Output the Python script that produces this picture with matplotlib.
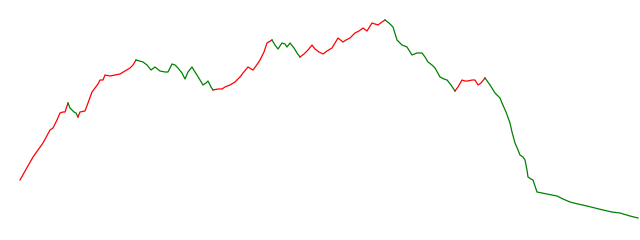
import matplotlib
matplotlib.use("Agg")
import matplotlib.pyplot as plt

days = [0, 13, 23, 30, 33, 37, 40, 43, 45, 48,
        50, 54, 56, 58,
        60, 65, 68, 72, 75, 78, 80, 83, 85, 90, 95, 100, 105, 110, 113, 116,
        123, 127, 131, 135, 140, 145, 148, 152, 155, 158, 162, 165, 168, 172, 175, 177, 180, 183, 186, 188, 191, 193,
        198, 202, 205, 210, 215, 220, 223, 228, 233, 236, 240, 244, 247, 252,
        255, 258, 262, 265, 267, 270, 274, 277, 280,
        284, 288, 292, 295, 299, 303, 307, 312, 315, 318, 323, 326, 330, 335, 339, 343, 347, 352, 355, 358, 362, 365,
        369, 373, 377, 382, 387, 392, 397, 402, 405, 408, 412, 415, 420, 424, 427, 431, 435,
        438, 442, 445, 448, 452, 455, 458, 461, 465,
        470, 475, 480, 482, 486, 490, 492, 495, 498, 500, 503, 505, 507, 508, 511, 513, 515, 517, 522, 527,
        532, 537, 543, 550, 558, 567, 575, 583, 592, 600, 610, 618]

values = [60, 83, 97, 110, 112, 120, 127, 128, 128, 137,
          132, 128, 127, 123,
          128, 129, 137, 148, 152, 156, 160, 160, 165, 164, 165, 166, 169, 172, 175, 180,
          178, 175, 170, 173, 169, 168, 168, 176, 175, 172, 167, 161, 168, 173, 168, 165, 160, 155, 157, 159, 153, 150,
          151, 151, 153, 155, 158, 163, 167, 173, 170, 174, 180, 188, 197, 200,
          195, 191, 197, 196, 193, 197, 192, 187, 183,
          186, 190, 195, 191, 188, 186, 189, 192, 197, 202, 198, 200, 202, 207, 209, 212, 209, 217, 216, 215, 218, 220,
          217, 213, 200, 195, 193, 185, 187, 187, 183, 178, 175, 172, 163, 161, 160, 155, 149,
          153, 160, 159, 159, 160, 160, 155, 157, 162,
          155, 147, 142, 137, 128, 117, 108, 97, 90, 85, 83, 80, 70, 63, 61, 60, 54, 48, 47, 46,
          45, 44, 41, 38, 36, 34, 32, 30, 28, 27, 24, 22]

# swing turning points (days)
pivots = [0, 48, 58, 116, 193, 252, 280, 365, 435, 465, 618]

fig = plt.figure(figsize=(6.4, 2.4), dpi=100)
ax = fig.add_axes([0, 0, 1, 1])

for a, b in zip(pivots[:-1], pivots[1:]):
    i0 = days.index(a)
    i1 = days.index(b)
    seg_x = days[i0:i1 + 1]
    seg_y = values[i0:i1 + 1]
    color = "#ff0000" if seg_y[-1] > seg_y[0] else "#008000"
    ax.plot(seg_x, seg_y, color=color, linewidth=0.9)

ax.set_xlim(-20, 620)
ax.set_ylim(0, 240)
ax.axis("off")

fig.savefig("out.png", dpi=100)
